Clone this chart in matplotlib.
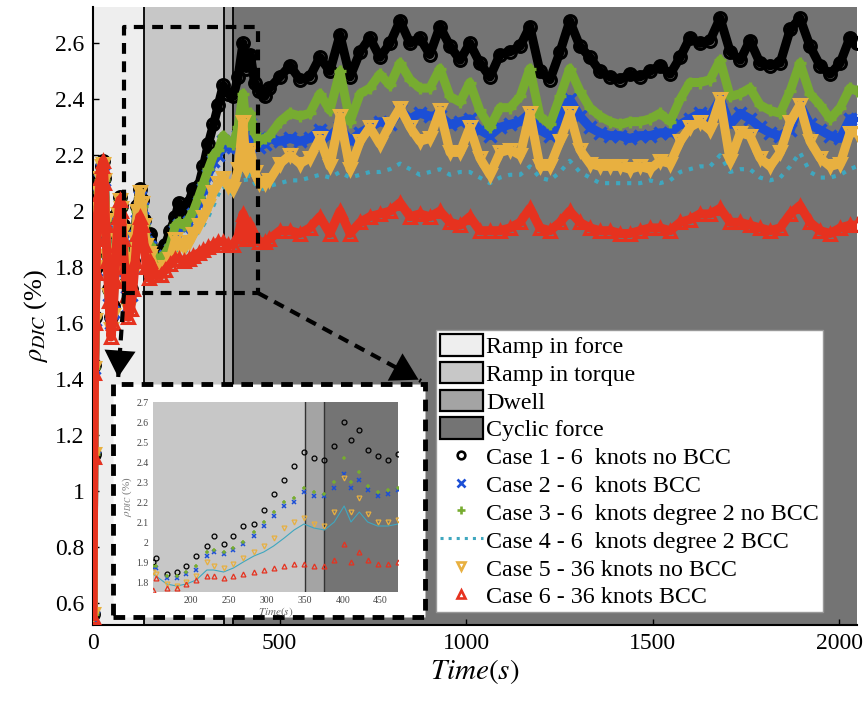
import numpy as np
import matplotlib
matplotlib.use('Agg')
import matplotlib.pyplot as plt
from matplotlib.patches import Patch, Rectangle, FancyArrowPatch
from matplotlib.lines import Line2D

plt.rcParams['font.family'] = ['Liberation Serif', 'DejaVu Serif']
plt.rcParams['mathtext.fontset'] = 'stix'

# time stamps (s)
t_s = [0, 2, 4, 6, 8, 10, 13, 16, 20, 24, 27, 30, 34, 38, 43, 48, 53, 58, 63, 68, 72, 76, 80, 85, 90,
       95, 101, 107, 113, 119, 125, 131, 137, 143, 150,
       154, 168, 181, 194, 207, 221, 230, 243, 256, 269, 283, 296, 309, 323, 336, 349, 362, 376, 389,
       402, 411, 422, 433, 446, 460, 473,
       501, 528, 555, 581, 608, 635, 662, 689, 716, 742, 769, 796, 823, 850, 876, 903,
       930, 957, 984, 1010, 1037, 1064, 1091, 1118, 1145, 1171, 1198, 1225, 1252, 1278, 1305, 1332,
       1359, 1386, 1413, 1439, 1466, 1493,
       1520, 1547, 1574, 1600, 1627, 1654, 1681, 1708, 1735, 1761, 1788, 1815, 1842, 1869, 1895,
       1922, 1949, 1976, 2003, 2029, 2047]

case1 = [0.56, 1.13, 1.45, 1.62, 1.80, 1.92, 2.02, 2.08, 2.12, 2.16, 2.18, 2.12, 1.98, 1.85, 1.72, 1.62, 1.66,
         1.80, 1.92, 2.00, 2.05, 2.02, 1.95, 1.85, 1.75, 1.68, 1.72, 1.82, 1.93, 2.02, 2.08, 2.04, 1.97, 1.92, 1.90,
         1.92, 1.84, 1.85, 1.88, 1.93, 1.98, 2.03, 1.99, 2.03, 2.08, 2.09, 2.16, 2.24, 2.31, 2.38, 2.45, 2.42,
         2.41, 2.48, 2.60, 2.51, 2.56, 2.46, 2.43, 2.41, 2.44,
         2.48, 2.52, 2.47, 2.48, 2.55, 2.50, 2.63, 2.48, 2.57, 2.62, 2.55, 2.60, 2.68, 2.60, 2.62, 2.56,
         2.66, 2.59, 2.54, 2.60, 2.53, 2.48, 2.56, 2.57, 2.59, 2.66, 2.50, 2.47, 2.57, 2.68, 2.59, 2.55,
         2.50, 2.48, 2.47, 2.49, 2.48, 2.50,
         2.52, 2.49, 2.55, 2.62, 2.60, 2.61, 2.69, 2.57, 2.54, 2.61, 2.53, 2.52, 2.53, 2.65, 2.69,
         2.59, 2.52, 2.49, 2.53, 2.62, 2.60]
case2 = [0.55, 1.12, 1.44, 1.61, 1.79, 1.91, 2.01, 2.06, 2.11, 2.15, 2.17, 2.11, 1.96, 1.84, 1.70, 1.60, 1.64,
         1.79, 1.90, 1.99, 2.04, 2.00, 1.93, 1.83, 1.73, 1.66, 1.70, 1.80, 1.91, 2.00, 2.05, 2.01, 1.94, 1.89, 1.87,
         1.87, 1.82, 1.82, 1.84, 1.86, 1.93, 1.95, 1.94, 1.96, 1.99, 2.03, 2.08, 2.13, 2.18, 2.20, 2.25, 2.23,
         2.23, 2.27, 2.34, 2.27, 2.31, 2.26, 2.23, 2.24, 2.26,
         2.25, 2.26, 2.25, 2.26, 2.29, 2.27, 2.30, 2.25, 2.28, 2.30, 2.32, 2.31, 2.36, 2.33, 2.35, 2.34,
         2.34, 2.31, 2.32, 2.33, 2.29, 2.27, 2.30, 2.31, 2.32, 2.35, 2.29, 2.27, 2.33, 2.40, 2.34, 2.30,
         2.28, 2.27, 2.27, 2.26, 2.27, 2.27,
         2.28, 2.28, 2.31, 2.33, 2.35, 2.34, 2.40, 2.31, 2.35, 2.33, 2.30, 2.28, 2.27, 2.29, 2.38,
         2.31, 2.29, 2.27, 2.26, 2.33, 2.33]
case3 = [0.56, 1.13, 1.44, 1.62, 1.80, 1.92, 2.01, 2.07, 2.11, 2.15, 2.17, 2.11, 1.97, 1.84, 1.71, 1.60, 1.65,
         1.79, 1.91, 1.99, 2.04, 2.01, 1.94, 1.84, 1.74, 1.67, 1.71, 1.80, 1.92, 2.00, 2.05, 2.02, 1.95, 1.90, 1.88,
         1.88, 1.83, 1.83, 1.85, 1.88, 1.95, 1.96, 1.95, 1.97, 2.00, 2.05, 2.10, 2.15, 2.20, 2.22, 2.27, 2.25,
         2.24, 2.30, 2.42, 2.30, 2.35, 2.28, 2.25, 2.26, 2.27,
         2.32, 2.35, 2.34, 2.35, 2.42, 2.36, 2.50, 2.32, 2.42, 2.44, 2.49, 2.45, 2.53, 2.47, 2.44, 2.44,
         2.51, 2.41, 2.39, 2.46, 2.36, 2.30, 2.37, 2.37, 2.41, 2.51, 2.34, 2.31, 2.41, 2.51, 2.43, 2.37,
         2.34, 2.32, 2.31, 2.32, 2.32, 2.33,
         2.35, 2.32, 2.40, 2.46, 2.46, 2.47, 2.54, 2.41, 2.42, 2.44, 2.38, 2.36, 2.35, 2.43, 2.53,
         2.42, 2.38, 2.33, 2.37, 2.44, 2.43]
case4 = [0.55, 1.12, 1.43, 1.60, 1.78, 1.90, 2.00, 2.05, 2.10, 2.14, 2.16, 2.10, 1.95, 1.82, 1.68, 1.56, 1.61,
         1.76, 1.88, 1.98, 2.03, 1.99, 1.91, 1.81, 1.71, 1.63, 1.67, 1.76, 1.88, 1.98, 2.04, 2.00, 1.92, 1.86, 1.84,
         1.83, 1.79, 1.78, 1.79, 1.81, 1.86, 1.86, 1.85, 1.87, 1.90, 1.93, 1.95, 1.98, 2.02, 2.06, 2.09, 2.07,
         2.06, 2.10, 2.18, 2.10, 2.15, 2.10, 2.08, 2.08, 2.09,
         2.10, 2.11, 2.11, 2.12, 2.13, 2.12, 2.14, 2.12, 2.13, 2.14, 2.14, 2.15, 2.17, 2.15, 2.13, 2.14,
         2.15, 2.13, 2.14, 2.14, 2.12, 2.10, 2.12, 2.13, 2.13, 2.16, 2.12, 2.11, 2.14, 2.18, 2.14, 2.12,
         2.10, 2.10, 2.10, 2.10, 2.10, 2.11,
         2.10, 2.11, 2.14, 2.15, 2.16, 2.16, 2.20, 2.14, 2.15, 2.15, 2.12, 2.11, 2.12, 2.16, 2.21,
         2.14, 2.12, 2.12, 2.13, 2.15, 2.16]
case5 = [0.56, 1.13, 1.44, 1.61, 1.80, 1.92, 2.02, 2.07, 2.12, 2.16, 2.17, 2.11, 1.97, 1.84, 1.70, 1.58, 1.63,
         1.78, 1.90, 1.99, 2.04, 2.01, 1.93, 1.83, 1.73, 1.65, 1.69, 1.78, 1.90, 2.00, 2.07, 2.03, 1.95, 1.88, 1.85,
         1.84, 1.79, 1.78, 1.80, 1.83, 1.90, 1.88, 1.87, 1.89, 1.92, 1.95, 1.98, 2.02, 2.07, 2.10, 2.12, 2.09,
         2.08, 2.15, 2.32, 2.15, 2.22, 2.14, 2.10, 2.10, 2.11,
         2.17, 2.20, 2.17, 2.19, 2.26, 2.16, 2.34, 2.15, 2.25, 2.30, 2.24, 2.31, 2.37, 2.30, 2.25, 2.26,
         2.36, 2.21, 2.21, 2.30, 2.19, 2.13, 2.21, 2.22, 2.20, 2.35, 2.16, 2.16, 2.25, 2.35, 2.22, 2.17,
         2.16, 2.16, 2.16, 2.15, 2.16, 2.15,
         2.18, 2.17, 2.25, 2.30, 2.32, 2.29, 2.40, 2.18, 2.28, 2.27, 2.19, 2.16, 2.21, 2.32, 2.38,
         2.25, 2.19, 2.16, 2.17, 2.28, 2.28]
case6 = [0.55, 1.12, 1.42, 1.60, 1.78, 1.90, 2.00, 2.06, 2.12, 2.16, 2.18, 2.10, 1.95, 1.82, 1.68, 1.55, 1.60,
         1.75, 1.88, 1.98, 2.04, 2.00, 1.90, 1.80, 1.70, 1.62, 1.65, 1.72, 1.82, 1.92, 1.98, 1.95, 1.88, 1.80, 1.76,
         1.82, 1.77, 1.77, 1.79, 1.81, 1.83, 1.83, 1.82, 1.83, 1.84, 1.85, 1.86, 1.87, 1.88, 1.89, 1.89, 1.88,
         1.88, 1.91, 1.99, 1.90, 1.95, 1.91, 1.89, 1.89, 1.90,
         1.93, 1.93, 1.92, 1.94, 1.98, 1.92, 2.00, 1.92, 1.96, 1.98, 1.99, 2.00, 2.03, 1.98, 1.99, 1.98,
         2.00, 1.96, 1.95, 1.98, 1.93, 1.93, 1.93, 1.94, 1.96, 2.01, 1.94, 1.93, 1.96, 2.00, 1.96, 1.94,
         1.93, 1.93, 1.92, 1.92, 1.93, 1.94,
         1.94, 1.93, 1.96, 1.97, 1.99, 1.99, 2.01, 1.96, 1.96, 1.95, 1.94, 1.93, 1.94, 1.99, 2.02,
         1.96, 1.93, 1.92, 1.94, 1.95, 1.95]

labels = ['Case 1 - 6  knots no BCC', 'Case 2 - 6  knots BCC', 'Case 3 - 6  knots degree 2 no BCC',
          'Case 4 - 6  knots degree 2 BCC', 'Case 5 - 36 knots no BCC', 'Case 6 - 36 knots BCC']
colors = ['#000000', '#1c4fd6', '#77ac30', '#3fa7bf', '#e8b040', '#e6321f']
markers = ['o', 'x', '+', None, 'v', '^']

phases = ['Ramp in force', 'Ramp in torque', 'Dwell', 'Cyclic force']
phase_bounds = [0, 137, 350, 375, 2048]
phase_colors = ['#eeeeee', '#c7c7c7', '#a4a4a4', '#747474']

W, H = 865, 702
fig = plt.figure(figsize=(W / 100, H / 100), dpi=100)


def fx(x):
    return x / W


def fy(y):
    return 1 - y / H


ax = fig.add_axes([fx(93), fy(625), (857 - 93) / W, (625 - 7) / H])

t = np.array(t_s)
series = [np.array(c) for c in [case1, case2, case3, case4, case5, case6]]

span_handles = []
for i in range(4):
    ax.axvspan(phase_bounds[i], phase_bounds[i + 1], color=phase_colors[i], lw=0, zorder=0)
    span_handles.append(Patch(facecolor=phase_colors[i], edgecolor='black', lw=1.6, label=phases[i]))
for b in phase_bounds[1:4]:
    ax.axvline(b, color='black', lw=1.3, zorder=1)

case_handles = []
for y, c, m, lab in zip(series, colors, markers, labels):
    if m is None:
        ax.plot(t, y, ':', color=c, lw=3, zorder=3)
        case_handles.append(Line2D([], [], ls=':', color=c, lw=2.2, label=lab))
    else:
        ax.plot(t, y, '-', color=c, lw=6.5, zorder=3, solid_joinstyle='round')
        if m in ('x', '+'):
            ax.plot(t, y, m, ls='none', color=c, ms=9, mew=2.4, zorder=3)
        else:
            ax.plot(t, y, m, ls='none', mfc='none', mec=c, ms=8.5, mew=2.2, zorder=3)
        case_handles.append(Line2D([], [], marker=m, ls='none', color=c, mfc='none', mec=c,
                                   ms=5.5, mew=1.9, label=lab))

# zoom rectangle
ax.plot([83, 442, 442, 83, 83], [1.707, 1.707, 2.66, 2.66, 1.707], color='black', lw=3,
        dashes=(2.6, 1.8), zorder=4, clip_on=False)

ax.set_xlim(0, 2048)
ax.set_ylim(0.52, 2.73)
ax.set_xticks([0, 500, 1000, 1500, 2000])
ax.set_yticks(np.round(np.arange(0.6, 2.61, 0.2), 1))
ax.set_yticklabels(['0.6', '0.8', '1', '1.2', '1.4', '1.6', '1.8', '2', '2.2', '2.4', '2.6'])
ax.tick_params(direction='in', labelsize=17, length=4, width=1, pad=6)
for s in ['top', 'right']:
    ax.spines[s].set_visible(False)
for s in ['left', 'bottom']:
    ax.spines[s].set_linewidth(1.5)
ax.set_xlabel(r'$Time(s)$', fontsize=21, labelpad=2)
ax.set_ylabel(r'$\rho_{DIC}$ (%)', fontsize=19, labelpad=4)

leg = ax.legend(handles=span_handles + case_handles, loc='lower left', bbox_to_anchor=(0.449, 0.021),
                fontsize=17.3, frameon=True, fancybox=False, edgecolor='#999999', framealpha=1,
                borderpad=0.15, labelspacing=0.16, handlelength=1.8, handleheight=1.0,
                handletextpad=0.15, borderaxespad=0)
leg.get_frame().set_linewidth(1)
leg.set_zorder(6)

# inset frame
fr = fig.add_axes([fx(113), fy(617), (425 - 113) / W, (617 - 384) / H])
fr.axis('off')
fr.add_patch(Rectangle((0, 0), 1, 1, transform=fr.transAxes, facecolor='white', edgecolor='black',
                       lw=3.5, linestyle=(0, (2.4, 1.7)), clip_on=False))

# arrows from the rectangle to the inset
for (x0, y0), (x1, y1) in [((124, 293), (118, 380)), ((258, 293), (421, 381))]:
    fig.add_artist(Line2D([fx(x0), fx(x1)], [fy(y0), fy(y1)], color='black', lw=3,
                          dashes=(2.6, 1.8), zorder=7))
    dx, dy = x1 - x0, y1 - y0
    n = np.hypot(dx, dy)
    xs, ys = x1 - dx / n * 18, y1 - dy / n * 18
    fig.add_artist(FancyArrowPatch((fx(xs), fy(ys)), (fx(x1), fy(y1)), transform=fig.transFigure,
                                   arrowstyle='-|>,head_length=1.2,head_width=0.7', mutation_scale=16,
                                   color='black', lw=0, zorder=8))

# inset axes
ins = fig.add_axes([fx(153), fy(592), (398 - 153) / W, (592 - 402) / H])
ins.axvspan(150, 350, color=phase_colors[1], lw=0, zorder=0)
ins.axvspan(350, 375, color=phase_colors[2], lw=0, zorder=0)
ins.axvspan(375, 480, color=phase_colors[3], lw=0, zorder=0)
for b in [350, 375]:
    ins.axvline(b, color='#333333', lw=1, zorder=1)
sel = (t >= 150) & (t <= 475)
for y, c, m in zip(series, colors, markers):
    if m is None:
        ins.plot(t[sel], y[sel], '-', color=c, lw=0.8, zorder=3)
    elif m in ('x', '+'):
        ins.plot(t[sel], y[sel], m, ls='none', color=c, ms=3.5, mew=1.1, zorder=3)
    else:
        ins.plot(t[sel], y[sel], m, ls='none', mfc='none', mec=c, ms=3.5, mew=0.9, zorder=3)
ins.set_xlim(150, 473)
ins.set_ylim(1.75, 2.7)
ins.set_xticks([200, 250, 300, 350, 400, 450])
ins.set_yticks([1.8, 1.9, 2.0, 2.1, 2.2, 2.3, 2.4, 2.5, 2.6, 2.7])
ins.set_yticklabels(['1.8', '1.9', '2', '2.1', '2.2', '2.3', '2.4', '2.5', '2.6', '2.7'])
ins.tick_params(labelsize=7, length=0, pad=3, colors='#444444')
for s in ins.spines.values():
    s.set_visible(False)
ins.set_xlabel(r'$Time(s)$', fontsize=8, color='#666666', labelpad=0)
ins.set_ylabel(r'$\rho_{DIC}$ (%)', fontsize=8, color='#777777', labelpad=2)

fig.savefig('out.png', dpi=100)
